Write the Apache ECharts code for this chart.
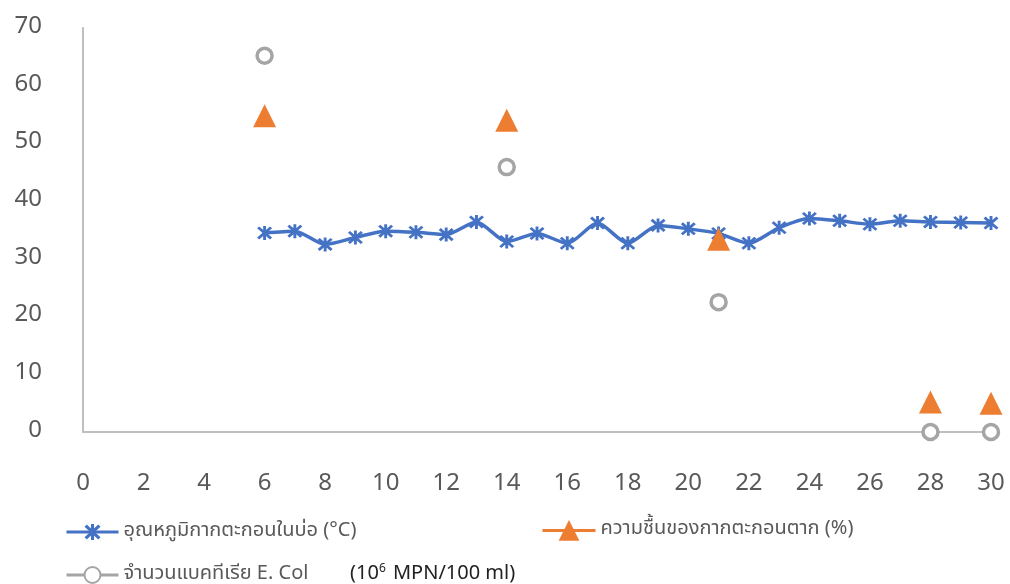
<!DOCTYPE html>
<html>
<head>
<meta charset="utf-8">
<script src="https://cdn.jsdelivr.net/npm/echarts@6/dist/echarts.min.js"></script>
<style>
  html, body { margin: 0; padding: 0; background: #fff; }
  #chart { width: 1010px; height: 584px; }
</style>
</head>
<body>
<div id="chart"></div>
<script>
// Day of measurement
const days = [6, 7, 8, 9, 10, 11, 12, 13, 14, 15, 16, 17, 18, 19, 20, 21, 22, 23, 24, 25, 26, 27, 28, 29, 30];
// Sludge temperature in the pond (°C)
const tempValues = [34.5, 34.8, 32.5, 33.7, 34.8, 34.6, 34.2, 36.4, 33.0, 34.4, 32.7, 36.2, 32.7, 35.8, 35.2, 34.4, 32.7, 35.4, 37.0, 36.6, 36.0, 36.6, 36.4, 36.3, 36.2];
// Moisture of drying sludge (%)
const moistDays = [6, 14, 21, 28, 30];
const moistValues = [54.8, 54.0, 33.4, 5.2, 5.0];
// E. coli count (10^6 MPN/100 ml)
const ecoliDays = [6, 14, 21, 28, 30];
const ecoliValues = [65.2, 45.9, 22.5, 0, 0];

const xTicks = { min: 0, max: 30, interval: 2 };
const yTicks = { min: 0, max: 70, interval: 10 };

const names = [
  'อุณหภูมิกากตะกอนในบ่อ (°C)',
  'ความชื้นของกากตะกอนตาก (%)',
  'จำนวนแบคทีเรีย E. Col'
];

const FONT = "'Noto Sans Thai', 'Noto Sans', 'DejaVu Sans', sans-serif";
const BLUE = '#4472C4', ORANGE = '#ED7D31', GREY = '#A5A5A5';
const AXIS = '#BFBFBF', TXT = '#595959';

// asterisk marker: vertical bar plus two diagonals
const STAR = 'path://M-1.8 -10L1.8 -10L1.8 10L-1.8 10Z' +
  'M-6.7 -9.3L9.3 6.7L6.7 9.3L-9.3 -6.7Z' +
  'M6.7 -9.3L9.3 -6.7L-6.7 9.3L-9.3 6.7Z';

const zip = (xs, ys) => xs.map((x, i) => [x, ys[i]]);

const legendBase = {
  orient: 'horizontal',
  padding: 0,
  itemWidth: 52,
  itemHeight: 20,
  itemGap: 4,
  textStyle: { fontFamily: FONT, fontSize: 20, color: TXT },
  lineStyle: { width: 3, opacity: 1 },
  selectedMode: false
};

const chart = echarts.init(document.getElementById('chart'), null, { renderer: 'canvas' });
chart.setOption({
  animation: false,
  backgroundColor: '#fff',
  grid: { left: 83, right: 19, top: 28, bottom: 152, containLabel: false },
  xAxis: {
    type: 'value',
    min: xTicks.min, max: xTicks.max, interval: xTicks.interval,
    axisLine: { show: true, lineStyle: { color: AXIS, width: 2 } },
    axisTick: { show: false },
    splitLine: { show: false },
    axisLabel: { color: TXT, fontFamily: FONT, fontSize: 24, margin: 41 }
  },
  yAxis: {
    type: 'value',
    min: yTicks.min, max: yTicks.max, interval: yTicks.interval,
    axisLine: { show: true, lineStyle: { color: AXIS, width: 2 } },
    axisTick: { show: false },
    splitLine: { show: false },
    axisLabel: { color: TXT, fontFamily: FONT, fontSize: 24, margin: 41, padding: [0, 0, 6, 0] }
  },
  legend: [
    Object.assign({}, legendBase, { left: 65, top: 522, itemWidth: 52, data: [names[0]] }),
    Object.assign({}, legendBase, { left: 541, top: 520, itemWidth: 53, itemHeight: 26, data: [names[1]] }),
    Object.assign({}, legendBase, {
      left: 65, top: 564, data: [names[2]],
      formatter: n => '{a|' + n + '}        {b|(10}{s|6}{b| MPN/100 ml)}',
      textStyle: {
        fontFamily: FONT, fontSize: 20, color: TXT,
        rich: {
          a: { fontFamily: FONT, fontSize: 20, color: TXT },
          b: { fontFamily: FONT, fontSize: 20, color: '#222' },
          s: { fontFamily: FONT, fontSize: 12, color: '#222', verticalAlign: 'top', padding: [0, 2, 10, 0] }
        }
      }
    })
  ],
  series: [
    {
      name: names[0], type: 'line', data: zip(days, tempValues),
      smooth: 0.25,
      symbol: STAR, symbolSize: [15, 14],
      itemStyle: { color: BLUE },
      lineStyle: { color: BLUE, width: 3.5 },
      z: 2
    },
    {
      name: names[1], type: 'line', data: zip(moistDays, moistValues),
      symbol: 'triangle', symbolSize: 23,
      itemStyle: { color: ORANGE },
      lineStyle: { color: ORANGE, width: 3, opacity: 0 },
      z: 3
    },
    {
      name: names[2], type: 'line', data: zip(ecoliDays, ecoliValues),
      symbol: 'circle', symbolSize: 15,
      itemStyle: { color: '#fff', borderColor: GREY, borderWidth: 3.5 },
      lineStyle: { color: GREY, width: 3, opacity: 0 },
      z: 3
    }
  ]
});
</script>
</body>
</html>
